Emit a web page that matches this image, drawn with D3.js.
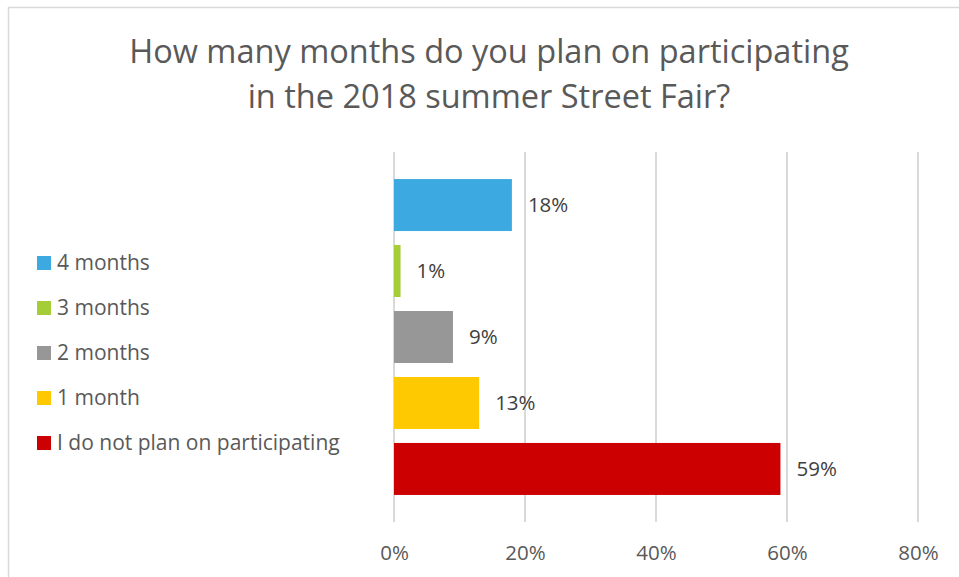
<!DOCTYPE html>
<html>
<head>
<meta charset="utf-8">
<script src="https://cdn.jsdelivr.net/npm/d3@7"></script>
<style>
  html, body { margin: 0; padding: 0; background: #fff; }
  svg { display: block; }
  text { font-family: "Open Sans", sans-serif; }
</style>
</head>
<body>
<svg id="chart" width="959" height="577"></svg>
<script>
// Survey answers, top bar first
const categories = ["4 months", "3 months", "2 months", "1 month", "I do not plan on participating"];
const values = [0.18, 0.01, 0.09, 0.13, 0.59];
const colors = ["#3CA9E1", "#A5CD38", "#979797", "#FFC901", "#CC0000"];
const xTicks = [0, 0.2, 0.4, 0.6, 0.8];
const titleLines = ["How many months do you plan on participating", "in the 2018 summer Street Fair?"];

const svg = d3.select("#chart");
const W = 959, H = 577;

// chart frame
svg.append("rect")
  .attr("x", 8.5).attr("y", 7.5)
  .attr("width", W + 10).attr("height", H + 10)
  .attr("fill", "#fff").attr("stroke", "#d9d9d9").attr("stroke-width", 1.5);

// title
svg.append("g").selectAll("text")
  .data(titleLines)
  .join("text")
  .attr("x", 489)
  .attr("y", (d, i) => 63 + i * 45)
  .attr("text-anchor", "middle")
  .attr("fill", "#595959")
  .style("font-size", "32.5px")
  .text(d => d);

const plot = { left: 394, right: 918, top: 152, bottom: 522 };

const x = d3.scaleLinear().domain([0, 0.8]).range([plot.left, plot.right]);
const y = d3.scaleBand().domain(categories).range([plot.top, plot.bottom])
  .paddingInner(0.212).paddingOuter(0.41);

// vertical gridlines
svg.append("g").selectAll("line")
  .data(xTicks)
  .join("line")
  .attr("x1", d => x(d)).attr("x2", d => x(d))
  .attr("y1", plot.top).attr("y2", plot.bottom)
  .attr("stroke", "#d9d9d9").attr("stroke-width", 2);

// x axis tick labels
const xAxis = d3.axisBottom(x).tickValues(xTicks).tickFormat(d3.format(".0%")).tickSize(0).tickPadding(0);
const gx = svg.append("g").attr("transform", `translate(0,${plot.bottom + 38})`).call(xAxis);
gx.select(".domain").remove();
gx.selectAll("text")
  .attr("fill", "#595959")
  .attr("dy", "0")
  .style("font-size", "20.5px")
  .style("font-family", "'Open Sans', sans-serif");

// bars
svg.append("g").selectAll("rect")
  .data(categories)
  .join("rect")
  .attr("x", x(0))
  .attr("y", d => y(d))
  .attr("width", (d, i) => x(values[i]) - x(0))
  .attr("height", y.bandwidth())
  .attr("fill", (d, i) => colors[i]);

// value labels
svg.append("g").selectAll("text")
  .data(categories)
  .join("text")
  .attr("x", (d, i) => x(values[i]) + 16)
  .attr("y", d => y(d) + y.bandwidth() / 2)
  .attr("dy", "0.35em")
  .attr("fill", "#404040")
  .style("font-size", "20.5px")
  .text((d, i) => d3.format(".0%")(values[i]));

// legend
const legend = svg.append("g").selectAll("g")
  .data(categories)
  .join("g")
  .attr("transform", (d, i) => `translate(37,${263 + i * 45})`);
legend.append("rect")
  .attr("x", 0).attr("y", -7)
  .attr("width", 14).attr("height", 14)
  .attr("fill", (d, i) => colors[i]);
legend.append("text")
  .attr("x", 20).attr("y", 0)
  .attr("dy", "0.35em")
  .attr("fill", "#595959")
  .style("font-size", "21px")
  .text(d => d);
</script>
</body>
</html>
